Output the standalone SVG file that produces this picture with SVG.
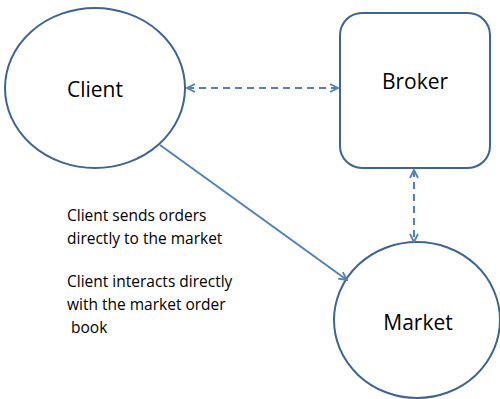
<svg xmlns="http://www.w3.org/2000/svg" width="500" height="399" viewBox="0 0 500 399">
<style>
.node{fill:#fff;stroke:#3d6594;stroke-width:2}
.lbl{font-family:"Open Sans","Liberation Sans",sans-serif;font-size:21px;fill:#000;text-anchor:middle}
.note{font-family:"Open Sans","Liberation Sans",sans-serif;font-size:15.5px;fill:#000}
.conn{stroke:#4f81bd;stroke-width:2;fill:none}
.dash{stroke-dasharray:7,5}
</style>
<defs>
<marker id="ah" viewBox="0 0 10 10" refX="9" refY="5" markerWidth="10" markerHeight="10" markerUnits="userSpaceOnUse" orient="auto-start-reverse">
<path d="M1,1 L9,5 L1,9" fill="none" stroke="#4f81bd" stroke-width="1.8"/>
</marker>
</defs>
<g id="client">
<ellipse class="node" cx="95" cy="88" rx="90" ry="80"/>
<text class="lbl" x="95" y="97">Client</text>
</g>
<g id="broker">
<rect class="node" x="340" y="13" width="150" height="155" rx="22"/>
<text class="lbl" x="415" y="89">Broker</text>
</g>
<g id="market">
<ellipse class="node" cx="417" cy="320" rx="83" ry="78"/>
<text class="lbl" x="418" y="330">Market</text>
</g>
<g id="connectors">
<line class="conn dash" x1="187" y1="88" x2="338" y2="88" marker-start="url(#ah)" marker-end="url(#ah)"/>
<line class="conn dash" x1="414" y1="170" x2="414" y2="242" marker-start="url(#ah)" marker-end="url(#ah)"/>
<line class="conn" x1="160" y1="145" x2="347" y2="280" marker-end="url(#ah)"/>
</g>
<g id="notes">
<text class="note" x="67" y="221">Client sends orders</text>
<text class="note" x="67" y="244">directly to the market</text>
<text class="note" x="67" y="287">Client interacts directly</text>
<text class="note" x="67" y="310">with the market order</text>
<text class="note" x="71" y="333">book</text>
</g>
</svg>
